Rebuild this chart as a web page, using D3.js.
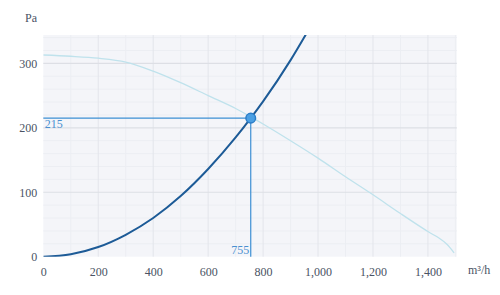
<!DOCTYPE html>
<html><head><meta charset="utf-8">
<script src="https://cdn.jsdelivr.net/npm/d3@7"></script>
<style>body{margin:0;background:#fff}svg{display:block}svg text{font-family:"Liberation Serif","DejaVu Serif",serif !important}</style>
</head><body><svg id="c" width="500" height="295"></svg>
<script>
// Data
const systemQ = [0, 100, 200, 300, 400, 500, 600, 700, 755, 800, 900, 960];
const systemP = [0, 3.8, 15, 34, 60, 94, 136, 185, 215, 241, 305, 348];
const fanQ = [0, 100, 200, 300, 400, 500, 600, 700, 755, 800, 900, 1000, 1100, 1200, 1300, 1400, 1440, 1470, 1495];
const fanP = [313, 311, 308, 302, 288, 270, 250, 230, 217, 206, 180, 153, 124, 96, 67, 39, 29, 19, 6];
const opQ = 755, opP = 215;
const xTicks = [0, 200, 400, 600, 800, 1000, 1200, 1400];
const yTicks = [0, 100, 200, 300];
const xMinor = [100, 300, 500, 700, 900, 1100, 1300, 1500];
const yMinor = [20, 40, 60, 80, 120, 140, 160, 180, 220, 240, 260, 280, 320, 340];
const xDomain = [0, 1505], yDomain = [0, 344];

const svg = d3.select("#c");
const L = 43.3, R = 456.8, T = 35, B = 256.7;
const x = d3.scaleLinear().domain(xDomain).range([L, R]);
const y = d3.scaleLinear().domain(yDomain).range([B, T]);

svg.append("rect").attr("x", L).attr("y", T).attr("width", R - L).attr("height", B - T).attr("fill", "#f4f5f9");
const g = svg.append("g");
g.selectAll(".xm").data(xMinor.filter(v => x(v) < R)).join("line")
  .attr("x1", d => x(d)).attr("x2", d => x(d)).attr("y1", T).attr("y2", B).attr("stroke", "#eceef3").attr("stroke-width", 1);
g.selectAll(".ym").data(yMinor).join("line")
  .attr("y1", d => y(d)).attr("y2", d => y(d)).attr("x1", L).attr("x2", R).attr("stroke", "#eceef3").attr("stroke-width", 1);
g.selectAll(".xg").data(xTicks.slice(1)).join("line")
  .attr("x1", d => x(d)).attr("x2", d => x(d)).attr("y1", T).attr("y2", B).attr("stroke", "#e3e5eb").attr("stroke-width", 1);
g.selectAll(".yg").data(yTicks.slice(1)).join("line")
  .attr("y1", d => y(d)).attr("y2", d => y(d)).attr("x1", L).attr("x2", R).attr("stroke", "#dddfe5").attr("stroke-width", 1.2);

// axes
const fmt = d3.format(",");
const xa = svg.append("g").attr("transform", `translate(0,${B})`)
  .call(d3.axisBottom(x).tickValues(xTicks).tickFormat(fmt).tickSize(0).tickPadding(11));
xa.attr("font-family", null);
xa.select(".domain").remove();
xa.selectAll("text").attr("font-size", 12).attr("fill", "#4a5364");
const ya = svg.append("g").attr("transform", `translate(${L},0)`)
  .call(d3.axisLeft(y).tickValues(yTicks).tickFormat(fmt).tickSize(0).tickPadding(6));
ya.attr("font-family", null);
ya.select(".domain").remove();
ya.selectAll("text").attr("font-size", 12).attr("fill", "#4a5364");

svg.append("text").attr("x", 25).attr("y", 22).attr("font-size", 12).attr("fill", "#4a5364").text("Pa");
svg.append("text").attr("x", 468).attr("y", 274).attr("font-size", 12).attr("fill", "#4a5364").text("m³/h");

svg.append("clipPath").attr("id", "clp").append("rect").attr("x", L).attr("y", T).attr("width", R - L).attr("height", B - T);

svg.append("path").datum(fanQ.map((q, i) => [q, fanP[i]]))
  .attr("d", d3.line().x(d => x(d[0])).y(d => y(d[1])).curve(d3.curveCatmullRom.alpha(0.5)))
  .attr("fill", "none").attr("stroke", "#bfe2ec").attr("stroke-width", 1.3).attr("clip-path", "url(#clp)");

// operating point guide lines
svg.append("line").attr("x1", x(0)).attr("x2", x(opQ)).attr("y1", y(opP)).attr("y2", y(opP))
  .attr("stroke", "#3d8fd3").attr("stroke-width", 1.2);
svg.append("line").attr("x1", x(opQ)).attr("x2", x(opQ)).attr("y1", y(opP)).attr("y2", y(0))
  .attr("stroke", "#3d8fd3").attr("stroke-width", 1.2);

svg.append("path").datum(systemQ.map((q, i) => [q, systemP[i]]))
  .attr("d", d3.line().x(d => x(d[0])).y(d => y(d[1])).curve(d3.curveMonotoneX))
  .attr("fill", "none").attr("stroke", "#1d5b97").attr("stroke-width", 2).attr("clip-path", "url(#clp)");

svg.append("circle").attr("cx", x(opQ)).attr("cy", y(opP)).attr("r", 4.8)
  .attr("fill", "#4a9fe3").attr("stroke", "#2a7dc8").attr("stroke-width", 1.5);

svg.append("text").attr("x", x(0) + 1.5).attr("y", y(opP) + 10).attr("font-size", 12).attr("fill", "#4a90d0").text(opP);
svg.append("text").attr("x", x(opQ) - 1.5).attr("y", y(0) - 2.5).attr("text-anchor", "end").attr("font-size", 12).attr("fill", "#4a90d0").text(opQ);
</script></body></html>
